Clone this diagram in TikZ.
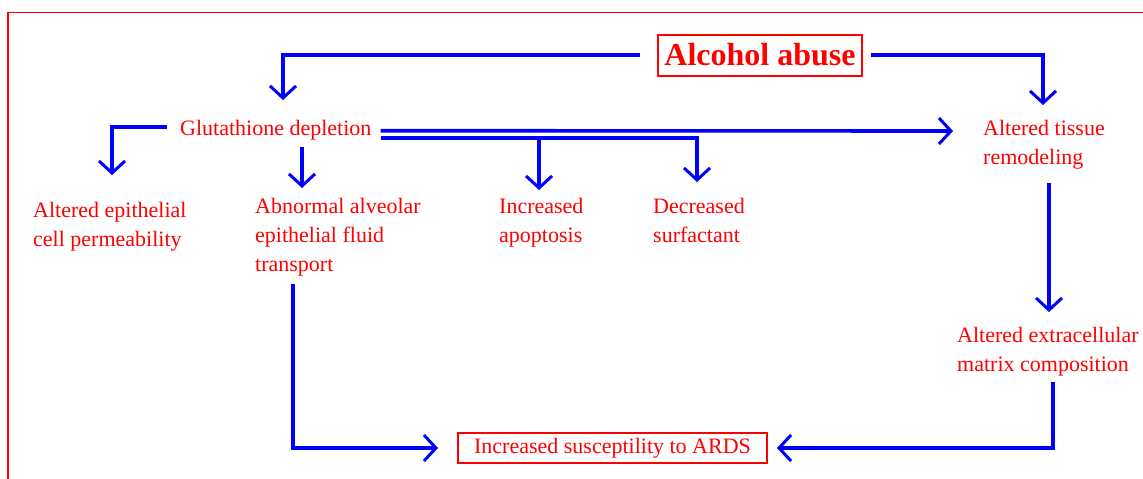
\documentclass[tikz,border=0pt]{standalone}
\usepackage{fontspec}
\setmainfont{Liberation Serif}
\usetikzlibrary{arrows.meta,calc}
\begin{document}
\begin{tikzpicture}[x=1pt,y=-1pt,
  lbl/.style={text=red, inner sep=0pt, align=left, font=\fontsize{22}{29}\selectfont},
  conn/.style={draw=blue, line width=3.6pt, line join=miter},
  arr/.style={conn, -{Straight Barb[length=12pt,width=26pt,line width=3pt]}},
  redbox/.style={draw=red, line width=2pt, text=red, inner sep=0pt}]
\useasboundingbox (0,0) rectangle (1143,479);
\draw[red, line width=1.5pt] (8,479) -- (8,12.5) -- (1143,12.5);
% nodes
\node[redbox, minimum width=204pt, minimum height=41pt, font=\fontsize{32}{36}\selectfont\bfseries] (alc) at (760,55) {Alcohol abuse};
\node[lbl, anchor=base west] (glu) at (180,135) {Glutathione depletion};
\node[lbl, anchor=base west] (tis) at (983,164) {Altered tissue\\remodeling};
\node[lbl, anchor=base west] (epi) at (33,246) {Altered epithelial\\cell permeability};
\node[lbl, anchor=base west] (abn) at (255,271) {Abnormal alveolar\\epithelial fluid\\transport};
\node[lbl, anchor=base west] (apo) at (499,242) {Increased\\apoptosis};
\node[lbl, anchor=base west] (sur) at (653,242) {Decreased\\surfactant};
\node[lbl, anchor=base west] (ecm) at (957,371) {Altered extracellular\\matrix composition};
\node[redbox, minimum width=309pt, minimum height=30pt, font=\fontsize{22}{26}\selectfont] (ards) at (612.5,448) {Increased susceptility to ARDS};
% arrow tips
\coordinate (tglu) at (283,100);
\coordinate (ttis) at (1043,105);
\coordinate (tepi) at (112,175);
\coordinate (tabn) at (302,188);
\coordinate (tapo) at (539,190);
\coordinate (tsur) at (697,182);
\coordinate (ttis2) at (953,131);
\coordinate (tecm) at (1049,312);
% connectors
\draw[arr] ([xshift=-17pt]alc.west) -| (tglu);
\draw[arr] ([xshift=8pt]alc.east) -| (ttis);
\draw[arr] ([xshift=-13pt,yshift=3pt]glu.west) -| (tepi);
\draw[arr] (glu.south -| tabn) ++(0,7) -- (tabn);
\draw[arr] ([xshift=9pt,yshift=-1pt]glu.east) -- (ttis2);
\draw[arr] ([xshift=9pt,yshift=-8pt]glu.east) -| (tsur);
\draw[arr] ([yshift=-8pt]glu.east -| tapo) -- (tapo);
\draw[arr] (tis.south -| tecm) ++(0,14) -- (tecm);
\draw[arr] (ecm.south -| 1053,0) ++(0,6) |- ([xshift=9pt]ards.east);
\draw[arr] (abn.south -| 293,0) ++(0,8) |- ([xshift=-19pt]ards.west);
\end{tikzpicture}
\end{document}
